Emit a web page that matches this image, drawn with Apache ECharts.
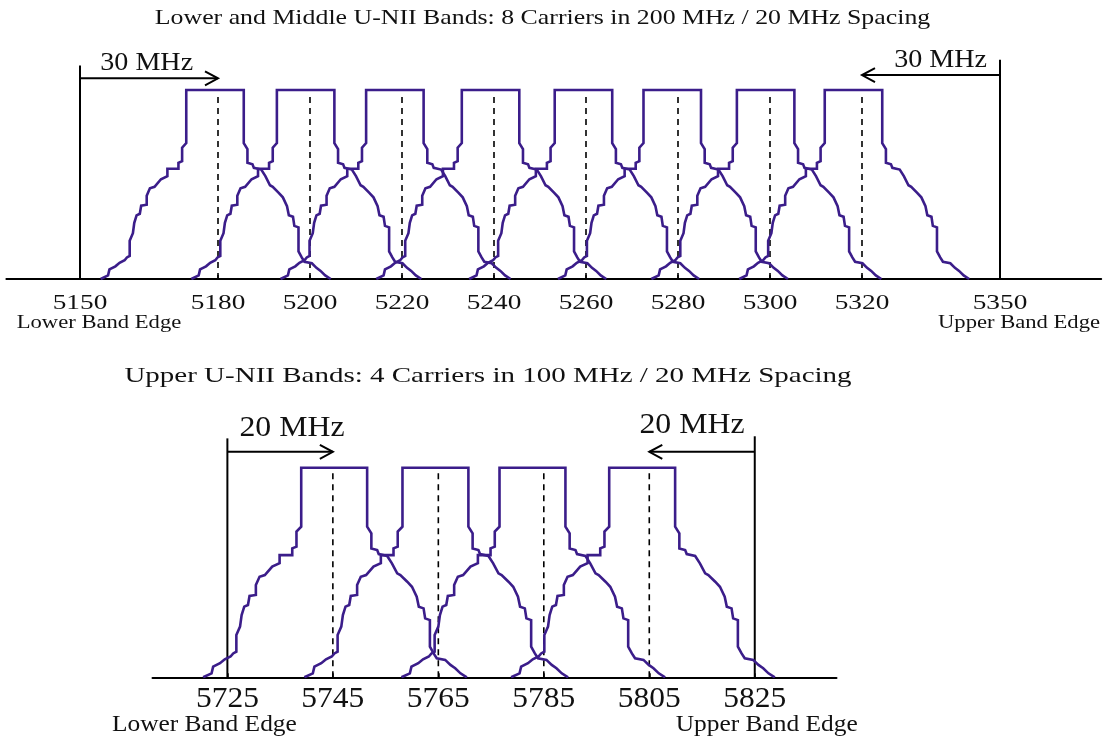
<!DOCTYPE html>
<html><head><meta charset="utf-8">
<script src="https://cdn.jsdelivr.net/npm/echarts@6/dist/echarts.min.js"></script>
<style>html,body{margin:0;padding:0;background:#fff}#c{width:1106px;height:740px}</style>
</head><body><div id="c"></div>
<script>
// ---------------- data ----------------
const topTitle = 'Lower and Middle U-NII Bands: 8 Carriers in 200 MHz / 20 MHz Spacing';
const bottomTitle = 'Upper U-NII Bands: 4 Carriers in 100 MHz / 20 MHz Spacing';
const topCarriers = [5180, 5200, 5220, 5240, 5260, 5280, 5300, 5320];
const topMaskCenters = [5179.4, 5199.1, 5218.5, 5239.3, 5259.5, 5278.8, 5299.1, 5318.2];
const topTicks = [5150, 5180, 5200, 5220, 5240, 5260, 5280, 5300, 5320, 5350];
const topEdges = [5150, 5350];
const topEdgeHeights = [113, 116];
const topArrows = [[5150, 5180, 106.2], [5350, 5320, 107.9]];
const topSpacingLabel = '30 MHz';
const bottomCarriers = [5745, 5765, 5785, 5805];
const bottomMaskCenters = [5745.3, 5764.5, 5782.9, 5803.7];
const bottomTicks = [5725, 5745, 5765, 5785, 5805, 5825];
const bottomEdges = [5725, 5825];
const bottomEdgeHeights = [114, 115];
const bottomArrows = [[5725, 5745, 107.6], [5825, 5805, 107.6]];
const bottomSpacingLabel = '20 MHz';
const edgeLabels = ['Lower Band Edge', 'Upper Band Edge'];
// spectral mask profile: [offset from carrier (MHz), relative level (top = 100)]
const maskLeft = [[-24.9,0],[-24.6,0.6],[-23.3,1.9],[-23.0,5.1],[-21.7,6.7],[-20.8,8.6],[-19.7,9.9],[-19.2,11.4],[-18.6,12.2],[-18.6,20.2],[-17.9,24.2],[-17.6,29.7],[-17.1,33.7],[-16.4,34.5],[-16.1,38.8],[-14.9,39.3],[-14.9,44],[-14.2,48],[-13.2,48.8],[-11.8,52.8],[-10.4,54.4],[-10.4,58.3],[-8.0,58.3],[-8.0,61.5],[-7.2,62.3],[-7.2,69.5],[-6.3,71.9],[-6.3,100]];
const maskRight = [[6.2,100],[6.2,71.9],[7.0,68.7],[7.0,61.5],[8.1,60.7],[8.4,58.8],[10.0,57.9],[10.9,54.4],[11.9,49.6],[12.5,48.8],[13.8,45.6],[14.7,43.2],[15.6,38.5],[16.0,33.7],[16.9,32.9],[17.2,28.1],[18.1,27.3],[18.1,14.6],[18.8,11.4],[19.4,9.1],[21.0,8.3],[22.0,5.9],[22.9,4.3],[23.9,1.9],[25.1,0]];
const centerLineTop = 98;

// ---------------- styles ----------------
const SERIF = "'Liberation Serif','Times New Roman',serif";
const MASK_COLOR = '#3b1d8a';
const INK = '#111';

function maskSeries(centers, axisIdx) {
  return centers.map(c => ({
    type: 'line', xAxisIndex: axisIdx, yAxisIndex: axisIdx,
    data: maskLeft.concat(maskRight).map(p => [c + p[0], p[1]]),
    symbol: 'none', silent: true, z: 3,
    lineStyle: { color: MASK_COLOR, width: 2.6, join: 'miter' }
  }));
}
function vLineSeries(values, tops, axisIdx, dashed) {
  return {
    type: 'custom', xAxisIndex: axisIdx, yAxisIndex: axisIdx, clip: false, silent: true, z: 2,
    data: values.map((v, i) => [v, tops[i]]),
    renderItem: (params, api) => {
      const a = api.coord([api.value(0), 0]);
      const b = api.coord([api.value(0), api.value(1)]);
      return { type: 'line', shape: { x1: a[0], y1: a[1], x2: b[0], y2: b[1] },
        style: { stroke: '#000', lineWidth: dashed ? 1.6 : 2, lineDash: dashed ? [6, 5] : null } };
    }
  };
}
function arrowSeries(arrows, axisIdx) {
  return {
    type: 'custom', xAxisIndex: axisIdx, yAxisIndex: axisIdx, clip: false, silent: true, z: 4,
    data: arrows,
    renderItem: (params, api) => {
      const a = api.coord([api.value(0), api.value(2)]);
      const b = api.coord([api.value(1), api.value(2)]);
      const d = b[0] > a[0] ? 1 : -1;
      return { type: 'group', children: [
        { type: 'line', shape: { x1: a[0], y1: a[1], x2: b[0], y2: b[1] }, style: { stroke: '#000', lineWidth: 2 } },
        { type: 'polyline', shape: { points: [[b[0] - d * 13, b[1] - 7], [b[0], b[1]], [b[0] - d * 13, b[1] + 7]] },
          style: { stroke: '#000', lineWidth: 2, fill: null } }
      ] };
    }
  };
}
function textSeries(items, axisIdx, size, sx, dxs, dys) {
  // items: [value, level, text]; dxs/dys: pixel nudges per item
  return {
    type: 'custom', xAxisIndex: axisIdx, yAxisIndex: axisIdx, clip: false, silent: true, z: 5,
    data: items.map(it => [it[0], it[1]]),
    renderItem: (params, api) => {
      const i = params.dataIndex;
      const it = items[i];
      const p = api.coord([api.value(0), api.value(1)]);
      const dx = Array.isArray(dxs) ? dxs[i] : dxs;
      const dy = Array.isArray(dys) ? dys[i] : dys;
      return { type: 'text', x: p[0] + dx, y: p[1] + dy, scaleX: sx,
        style: { text: String(it[2]), font: size + 'px ' + SERIF, fill: INK,
          align: 'center', verticalAlign: 'middle', textAlign: 'center', textVerticalAlign: 'middle' } };
    }
  };
}
function xAxis(gridIdx, min, max, ticks) {
  return {
    type: 'value', gridIndex: gridIdx, min: min, max: max,
    axisLine: { show: true, lineStyle: { color: '#000', width: 2 } },
    axisTick: { show: true, inside: true, length: 4, customValues: ticks, lineStyle: { color: '#000', width: 1.5 } },
    axisLabel: { show: false }, splitLine: { show: false }
  };
}
function yAxis(gridIdx) {
  return { type: 'value', gridIndex: gridIdx, min: 0, max: 120, show: false, splitLine: { show: false } };
}

const chart = echarts.init(document.getElementById('c'), null, { renderer: 'canvas' });
chart.setOption({
  animation: false,
  backgroundColor: '#fff',
  grid: [
    { left: 6.4, top: 52.2, width: 1094.8, height: 226.8 },
    { left: 152.5, top: 425.8, width: 684.0, height: 251.5 }
  ],
  xAxis: [xAxis(0, 5134, 5372, topTicks), xAxis(1, 5710.8, 5840.5, bottomTicks)],
  yAxis: [yAxis(0), yAxis(1)],
  graphic: [
    { type: 'text', x: 542.5, y: 18, scaleX: 1.174, style: { text: topTitle, font: '22px ' + SERIF, fill: INK, align: 'center', verticalAlign: 'middle', textAlign: 'center', textVerticalAlign: 'middle' } },
    { type: 'text', x: 488, y: 376, scaleX: 1.318, style: { text: bottomTitle, font: '22px ' + SERIF, fill: INK, align: 'center', verticalAlign: 'middle', textAlign: 'center', textVerticalAlign: 'middle' } }
  ],
  series: [].concat(
    vLineSeries(topCarriers, topCarriers.map(() => centerLineTop), 0, true),
    vLineSeries(topEdges, topEdgeHeights, 0, false),
    arrowSeries(topArrows, 0),
    maskSeries(topMaskCenters, 0),
    textSeries(topTicks.map(v => [v, 0, v]), 0, 21, 1.3, 0, 24),
    textSeries([[topEdges[0], 0, edgeLabels[0]], [topEdges[1], 0, edgeLabels[1]]], 0, 19, 1.19, 19, 44),
    textSeries([[5164.5, topArrows[0][2], topSpacingLabel], [5337.1, topArrows[1][2], topSpacingLabel]], 0, 26, 1.08, 0, -15),
    vLineSeries(bottomCarriers, bottomCarriers.map(() => centerLineTop), 1, true),
    vLineSeries(bottomEdges, bottomEdgeHeights, 1, false),
    arrowSeries(bottomArrows, 1),
    maskSeries(bottomMaskCenters, 1),
    textSeries(bottomTicks.map(v => [v, 0, v]), 1, 30, 1.05, 0, 22),
    textSeries([[bottomEdges[0], 0, edgeLabels[0]], [bottomEdges[1], 0, edgeLabels[1]]], 1, 22.6, 1.125, [-23, 12], 48),
    textSeries([[5737.25, bottomArrows[0][2], bottomSpacingLabel], [5813.1, bottomArrows[1][2], bottomSpacingLabel]], 1, 30, 1.06, 0, [-24, -27])
  )
});
</script></body></html>
